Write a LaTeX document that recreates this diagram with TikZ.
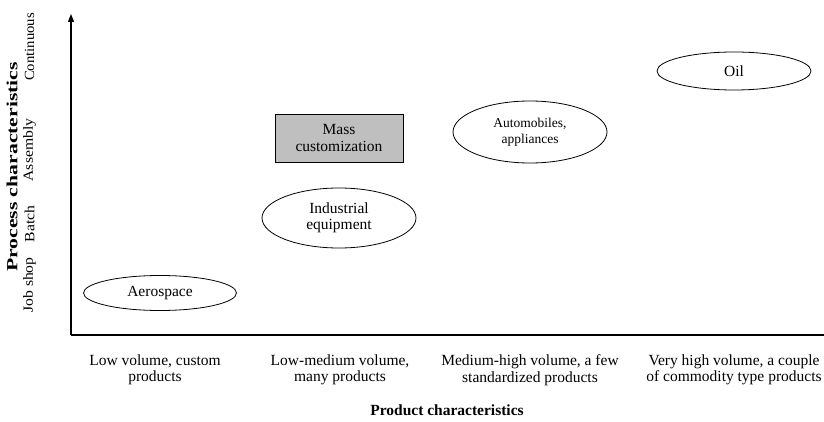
\documentclass[tikz,border=0pt]{standalone}
\usepackage{fontspec}
\setmainfont{Liberation Serif}
\usetikzlibrary{shapes.geometric,arrows.meta}
\begin{document}
\begin{tikzpicture}[x=1pt,y=-1pt,
  every node/.style={font=\fontsize{15.5}{16.5}\selectfont, align=center},
  oval/.style={draw, ellipse, inner sep=0pt, line width=0.8pt},
  gbox/.style={draw, fill=black!25, inner sep=0pt, line width=0.8pt},
  axis/.style={line width=1.2pt},
  tick/.style={rotate=90, font=\fontsize{14}{16}\selectfont},
  title/.style={font=\bfseries\fontsize{15.5}{17}\selectfont}]
\useasboundingbox (0,0) rectangle (824,422);
\coordinate (O) at (71,335);
\coordinate (T) at (71,14);
\coordinate (R) at (824,335);
\draw[axis] (R) -- (O);
\draw[axis,-{Triangle[length=8pt,width=6pt]}] (O) -- (T);
% y tick labels
\node[tick] (js) at (29.5,285) {\scalebox{1.12}[1]{Job shop}};
\node[tick] (ba) at (29.5,224) {\scalebox{1.12}[1]{Batch}};
\node[tick] (as) at (29.5,150) {\scalebox{1.12}[1]{Assembly}};
\node[tick] (co) at (29.5,47) {\scalebox{1.05}[1]{Continuous}};
\node[title,rotate=90] (pc) at (12,167) {\scalebox{1.4}[1]{Process characteristics}};
% items
\node[oval, minimum width=153pt, minimum height=35pt] (aero) at (160,293) {Aerospace};
\node[oval, minimum width=154pt, minimum height=60pt] (ind) at (339,218) {Industrial\\equipment};
\node[gbox, minimum width=128pt, minimum height=48pt] (mass) at (339,138) {Mass\\customization};
\node[oval, minimum width=154pt, minimum height=62pt, font=\fontsize{13.5}{16}\selectfont] (auto) at (530,132) {Automobiles,\\appliances};
\node[oval, minimum width=154pt, minimum height=38pt] (oil) at (734,71) {Oil};
% x labels
\node (x1) at (155,370) {Low volume, custom\\products};
\node (x2) at (340,370) {Low-medium volume,\\many products};
\node (x3) at (530,370) {Medium-high volume, a few\\standardized products};
\node (x4) at (734,370) {Very high volume, a couple\\of commodity type products};
\node[title] (prod) at (447,410) {Product characteristics};
\end{tikzpicture}
\end{document}
